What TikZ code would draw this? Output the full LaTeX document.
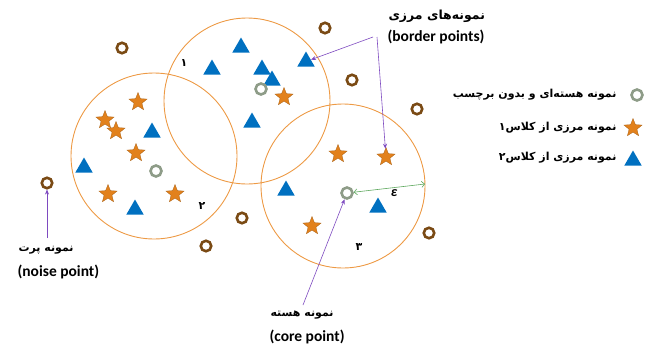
\documentclass[tikz,border=0pt]{standalone}
\usepackage{fontspec}
\setmainfont{Carlito}
\newfontfamily\farsi[Script=Arabic]{DejaVu Sans}
\TeXXeTstate=1
\usepackage{xcolor}
\usetikzlibrary{shapes.geometric, positioning, arrows.meta}

\definecolor{ringorange}{HTML}{ED9A45}
\definecolor{starorange}{HTML}{E2811C}
\definecolor{triblue}{HTML}{0070C0}
\definecolor{noisebrown}{HTML}{7A4A14}
\definecolor{coregray}{HTML}{8E9C88}
\definecolor{arrowpurple}{HTML}{7E4AC0}
\definecolor{epsgreen}{HTML}{5DA85D}

\tikzset{
  tri/.style={regular polygon, regular polygon sides=3, fill=triblue, inner sep=0pt, minimum size=20pt, yshift=-2.5pt},
  starpt/.style={star, star points=5, star point ratio=2.3, fill=starorange, draw=starorange!75!black, line width=0.3pt, inner sep=0pt, minimum size=19pt},
  noisept/.style={circle, draw=noisebrown, line width=2.6pt, inner sep=0pt, minimum size=10.5pt},
  corept/.style={circle, draw=coregray, line width=2.6pt, inner sep=0pt, minimum size=11pt},
  ring/.style={draw=ringorange, line width=0.9pt},
  fa/.style={font=\farsi\bfseries\fontsize{11}{13}\selectfont},
  fabig/.style={font=\farsi\bfseries\fontsize{12.5}{14}\selectfont},
  en/.style={font=\bfseries\fontsize{15.5}{17}\selectfont},
  pointer/.style={arrowpurple, line width=0.6pt, -{Stealth[length=5pt, width=4pt]}},
  epsarrow/.style={epsgreen, line width=0.6pt, {Straight Barb[length=3pt]}-{Straight Barb[length=3pt]}},
}

\begin{document}
\begin{tikzpicture}[x=1pt, y=-1pt]
    \useasboundingbox (0,0) rectangle (654,349);

    % eps-neighbourhoods
    \coordinate (ring1) at (247,101);
    \coordinate (ring2) at (154,156);
    \coordinate (ring3) at (343,186);
    \draw[ring] (ring1) circle[radius=83pt];
    \draw[ring] (ring2) circle[radius=83pt];
    \draw[ring] (ring3) circle[radius=82pt];

    % blue points
    \node[tri] (t1) at (241,45) {};
    \node[tri] (t2) at (212,67) {};
    \node[tri] (t3) at (262,67) {};
    \node[tri] (t4) at (272,78) {};
    \node[tri] (t5) at (306,59) {};
    \node[tri] (t6) at (152,130) {};
    \node[tri] (t7) at (252,120) {};
    \node[tri] (t8) at (84,165) {};
    \node[tri] (t9) at (135,207) {};
    \node[tri] (t10) at (286,188) {};
    \node[tri] (t11) at (378,205) {};

    % orange points
    \node[starpt] (s1) at (138,102) {};
    \node[starpt] (s2) at (105,120) {};
    \node[starpt] (s3) at (116,131) {};
    \node[starpt] (s4) at (136,153) {};
    \node[starpt] (s5) at (284,97) {};
    \node[starpt] (s6) at (108,194) {};
    \node[starpt] (s7) at (175,194) {};
    \node[starpt] (s8) at (312,226) {};
    \node[starpt] (s9) at (338,154) {};
    \node[starpt] (s10) at (386,157) {};

    % core points
    \node[corept] (c1) at (261,89) {};
    \node[corept] (c2) at (156,171) {};
    \node[corept] (c3) at (347,193) {};

    % noise
    \node[noisept] (n1) at (122,48) {};
    \node[noisept] (n2) at (325,28) {};
    \node[noisept] (n3) at (352,80) {};
    \node[noisept] (n4) at (417,109) {};
    \node[noisept] (n5) at (47,183) {};
    \node[noisept] (n6) at (242,218) {};
    \node[noisept] (n7) at (206,246) {};
    \node[noisept] (n8) at (429,233) {};

    % cluster numbers
    \node[fa] (num1) at (184,63) {۱};
    \node[fa] (num2) at (202,206) {۲};
    \node[fa] (num3) at (359,247) {۳};

    % radius
    \coordinate (epsend) at (425,184);
    \draw[epsarrow] (c3) -- (epsend);
    \node (epslabel) at (394,193) {\bfseries\itshape\fontsize{14}{16}\selectfont ε};

    % border points
    \node[fabig, anchor=west] (borderfa) at (385,16) {\beginR نمونه‌های مرزی\endR};
    \node[en, anchor=west] (borderen) at (384,37) {(border points)};
    \draw[pointer] ([xshift=-11pt]borderen.west) -- (t5);
    \draw[pointer] ([xshift=-7pt]borderen.west) -- (s10);

    % noise point
    \node[fa, anchor=west] (noisefa) at (15,250) {\beginR نمونه پرت\endR};
    \node[en, anchor=west] (noiseen) at (14,272) {(noise point)};
    \coordinate (noisetail) at (47,238);
    \draw[pointer] (noisetail) -- (n5);

    % core point
    \node[fa, anchor=west] (corefa) at (267,315) {\beginR نمونه هسته\endR};
    \node[en, anchor=west] (coreen) at (266,337) {(core point)};
    \coordinate (coretail) at (303,305);
    \draw[pointer] (coretail) -- (c3);

    % legend
    \node[corept] (lgcore) at (637,95) {};
    \node[starpt] (lgstar) at (633,128) {};
    \node[tri] (lgtri) at (633,158) {};
    \node[fa, anchor=east] (lgcoretext) at (620,95) {\beginR نمونه هسته‌ای و بدون برچسب\endR};
    \node[fa, anchor=east] (lgstartext) at (620,128) {\beginR نمونه مرزی از کلاس۱\endR};
    \node[fa, anchor=east] (lgtritext) at (620,158) {\beginR نمونه مرزی از کلاس۲\endR};
\end{tikzpicture}
\end{document}
